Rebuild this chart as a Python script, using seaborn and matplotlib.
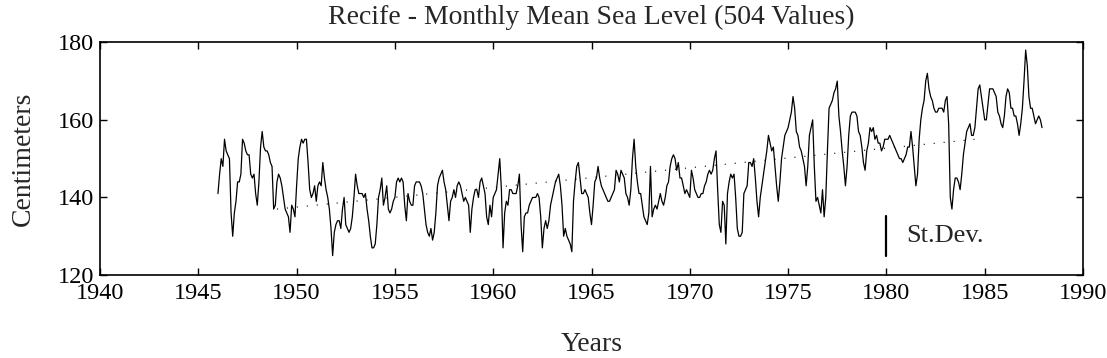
import numpy as np
import pandas as pd
import matplotlib
matplotlib.use("Agg")
import matplotlib.pyplot as plt
import seaborn as sns

# -------------------------------
# Data: monthly mean sea level, Recife (cm), Jan 1946 - Dec 1987
# -------------------------------
start_year = 1946
sea_level_cm = [
    141, 146, 150, 148, 155, 152, 151, 150, 136, 130, 136, 139,  # 1946
    144, 144, 146, 155, 154, 152, 151, 151, 146, 145, 146, 141,  # 1947
    138, 144, 153, 157, 153, 152, 152, 151, 149, 148, 137, 138,  # 1948
    144, 146, 145, 143, 140, 137, 136, 135, 131, 138, 137, 135,  # 1949
    143, 150, 153, 155, 154, 155, 155, 149, 142, 140, 141, 143,  # 1950
    139, 143, 144, 143, 149, 145, 142, 140, 137, 132, 125, 131,  # 1951
    133, 134, 134, 132, 137, 140, 133, 132, 131, 132, 135, 140,  # 1952
    146, 143, 141, 141, 141, 140, 141, 137, 134, 130, 127, 127,  # 1953
    128, 133, 140, 142, 145, 138, 140, 143, 137, 136, 137, 139,  # 1954
    140, 144, 145, 144, 145, 144, 138, 134, 141, 139, 138, 138,  # 1955
    143, 144, 144, 144, 143, 141, 137, 133, 131, 130, 132, 129,  # 1956
    131, 136, 143, 145, 146, 147, 144, 142, 138, 134, 139, 140,  # 1957
    142, 140, 143, 144, 143, 141, 139, 140, 139, 138, 131, 137,  # 1958
    140, 142, 142, 140, 144, 145, 143, 141, 135, 133, 138, 135,  # 1959
    140, 141, 142, 146, 150, 142, 127, 136, 139, 138, 142, 142,  # 1960
    141, 141, 141, 143, 146, 133, 126, 135, 136, 136, 138, 139,  # 1961
    140, 140, 140, 141, 140, 135, 127, 132, 134, 132, 134, 138,  # 1962
    140, 142, 144, 145, 146, 143, 138, 130, 132, 130, 129, 128,  # 1963
    126, 139, 144, 148, 149, 145, 141, 141, 142, 141, 140, 136,  # 1964
    133, 138, 144, 145, 148, 145, 143, 142, 141, 140, 139, 139,  # 1965
    140, 141, 142, 147, 146, 144, 147, 146, 145, 141, 140, 138,  # 1966
    142, 150, 155, 148, 144, 141, 141, 138, 135, 134, 133, 136,  # 1967
    148, 135, 137, 138, 137, 139, 141, 139, 138, 140, 143, 144,  # 1968
    148, 150, 151, 150, 147, 149, 145, 145, 143, 141, 142, 141,  # 1969
    140, 147, 145, 142, 141, 140, 140, 141, 141, 143, 144, 146,  # 1970
    147, 146, 147, 150, 152, 142, 133, 131, 139, 138, 128, 141,  # 1971
    144, 146, 145, 146, 140, 132, 130, 130, 131, 141, 142, 143,  # 1972
    149, 149, 148, 150, 145, 139, 135, 140, 143, 146, 149, 152,  # 1973
    156, 154, 152, 153, 148, 143, 139, 144, 150, 153, 156, 157,  # 1974
    158, 160, 162, 166, 163, 157, 156, 153, 152, 150, 148, 143,  # 1975
    148, 156, 158, 160, 148, 139, 140, 138, 136, 142, 135, 140,  # 1976
    152, 163, 164, 165, 167, 168, 170, 161, 157, 152, 148, 143,  # 1977
    148, 156, 161, 162, 162, 162, 161, 157, 156, 153, 149, 147,  # 1978
    152, 154, 158, 157, 158, 155, 156, 154, 154, 152, 153, 155,  # 1979
    155, 155, 156, 155, 154, 153, 152, 151, 150, 150, 149, 150,  # 1980
    151, 153, 153, 157, 153, 148, 143, 146, 155, 160, 163, 165,  # 1981
    170, 172, 168, 166, 165, 163, 162, 162, 163, 163, 163, 162,  # 1982
    165, 166, 159, 140, 137, 142, 145, 145, 144, 142, 146, 151,  # 1983
    154, 157, 158, 159, 156, 156, 158, 163, 168, 169, 166, 163,  # 1984
    160, 160, 164, 168, 168, 168, 167, 166, 162, 161, 159, 158,  # 1985
    161, 166, 168, 167, 163, 163, 161, 161, 159, 156, 159, 163,  # 1986
    170, 178, 174, 166, 163, 163, 161, 159, 160, 161, 160, 158,  # 1987
]

# dotted trend line (end points)
trend_years = [1949.0, 1984.7]
trend_cm = [137.0, 155.1]

# standard deviation bar
stdev_year = 1980.0
stdev_base = 124.9
stdev_cm = 10.3

x_ticks = list(range(1940, 1991, 5))
y_ticks = [120, 140, 160, 180]

df = pd.DataFrame({
    "Year": start_year + np.arange(len(sea_level_cm)) / 12.0,
    "Level": sea_level_cm,
})
trend = pd.DataFrame({"Year": trend_years, "Level": trend_cm})

# -------------------------------
# Plot
# -------------------------------
sns.set_style("ticks")
plt.rcParams["font.family"] = ["Liberation Serif", "DejaVu Serif"]

fig = plt.figure(figsize=(11.07, 3.58), dpi=100)
ax = fig.add_axes([100 / 1107, 1 - 275 / 358, 983 / 1107, 232.7 / 358])

sns.lineplot(data=df, x="Year", y="Level", color="black", linewidth=0.9, ax=ax)
sns.lineplot(data=trend, x="Year", y="Level", color="black", linewidth=0.8,
             linestyle=(0, (1, 8)), ax=ax)

ax.plot([stdev_year, stdev_year], [stdev_base, stdev_base + stdev_cm],
        color="black", linewidth=1.6)
ax.text(stdev_year + 1.0, stdev_base + stdev_cm / 2, "St.Dev.",
        fontsize=19, va="center", ha="left")

ax.set_xlim(1940, 1990)
ax.set_ylim(120, 180)
ax.set_xticks(x_ticks)
ax.set_yticks(y_ticks)

for side in ["top", "bottom", "left", "right"]:
    ax.spines[side].set_visible(True)
    ax.spines[side].set_linewidth(1.2)
    ax.spines[side].set_color("black")

ax.tick_params(direction="in", top=True, right=True, length=5, width=1,
               labelsize=17.5, colors="black")
ax.tick_params(axis="x", pad=6)
ax.tick_params(axis="y", pad=4)

ax.set_title("Recife - Monthly Mean Sea Level (504 Values)", fontsize=20, pad=13)
ax.set_xlabel("Years", fontsize=20)
ax.set_ylabel("Centimeters", fontsize=20)
ax.xaxis.set_label_coords(0.5, -0.245)
ax.yaxis.set_label_coords(-0.065, 0.5)

fig.savefig("out.png", dpi=100, facecolor="white")
